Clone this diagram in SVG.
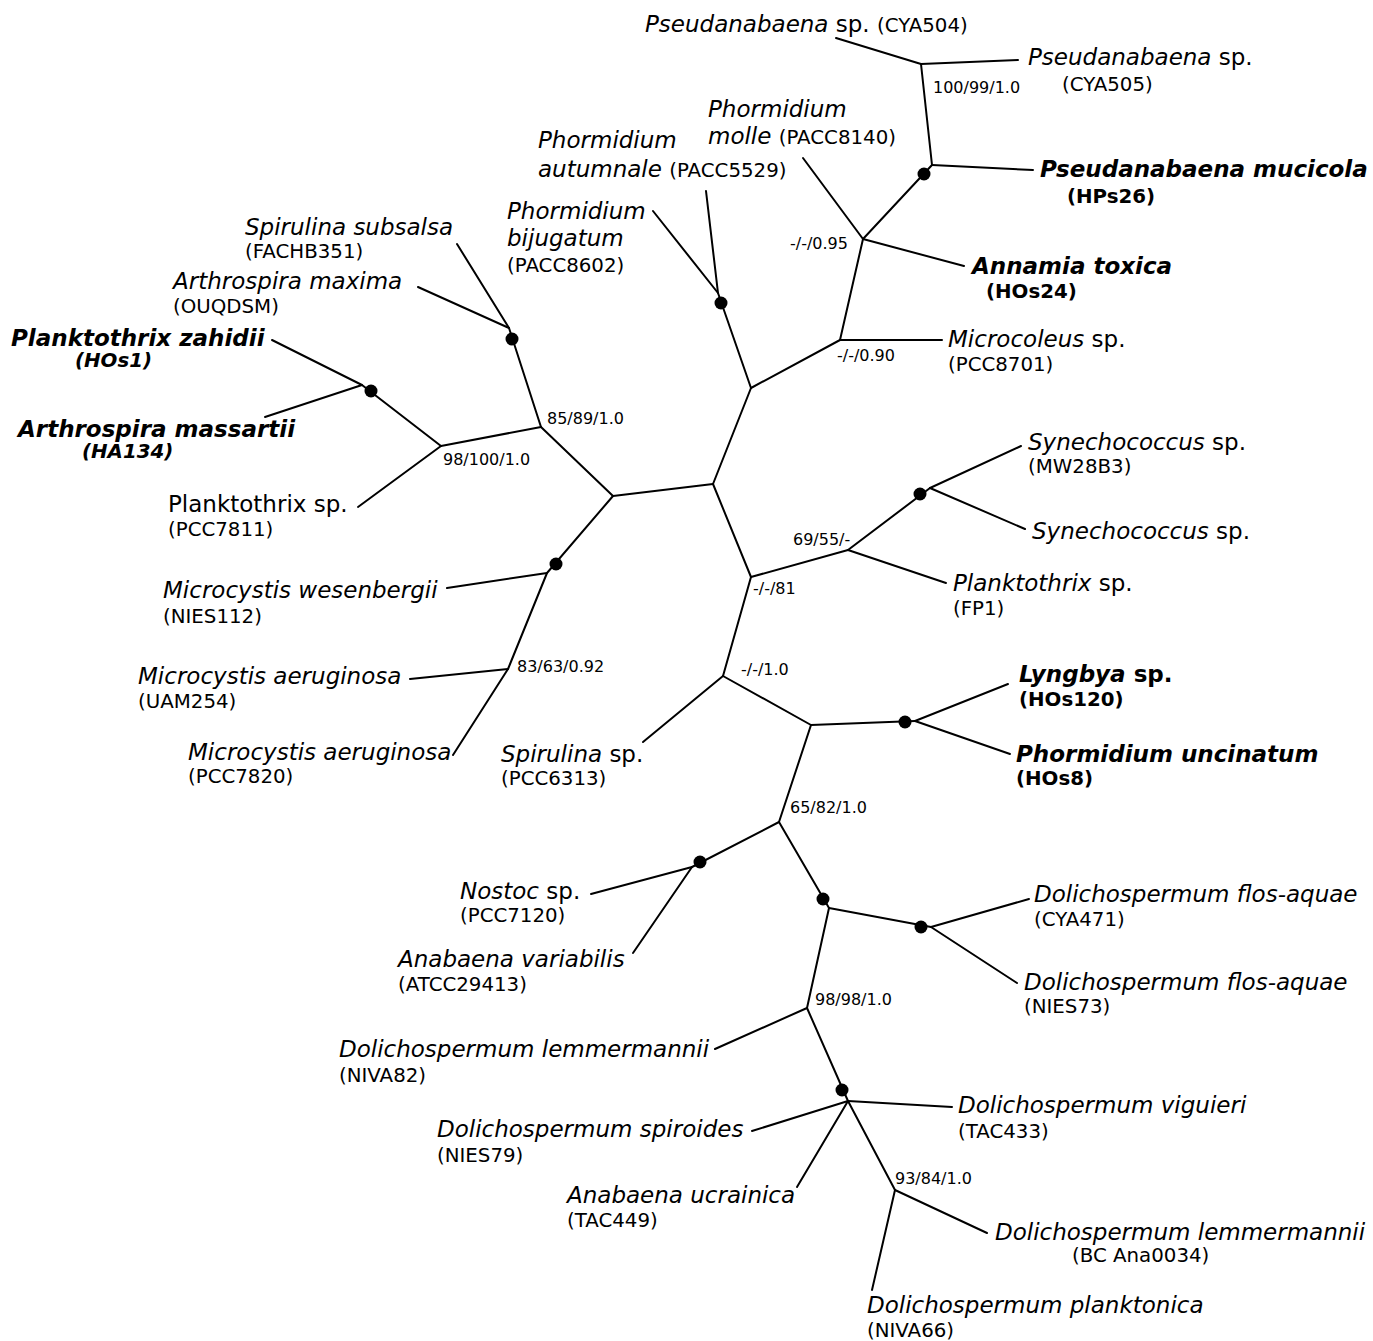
<svg xmlns="http://www.w3.org/2000/svg" width="1373" height="1341" viewBox="0 0 1373 1341">
<style>
text{font-family:"DejaVu Sans",Verdana,sans-serif;fill:#000}
.sp{font-size:23px}
.i{font-style:italic}
.st{font-size:19.8px}
.b{font-weight:bold}
.sv{font-size:16px}
.br line,.br polyline{stroke:#000;stroke-width:2;fill:none;stroke-linecap:round;stroke-linejoin:round}
.dot{fill:#000}
</style>
<rect width="1373" height="1341" fill="#fff"/>
<g id="connectors" class="br">
<line x1="613" y1="496" x2="713" y2="484"/>
<line x1="713" y1="484" x2="751" y2="388"/>
<line x1="713" y1="484" x2="751" y2="577"/>
<polyline points="751,388 718,293 653,211"/>
<line x1="718" y1="293" x2="706" y2="191"/>
<line x1="751" y1="388" x2="840" y2="340"/>
<line x1="840" y1="340" x2="942" y2="340"/>
<line x1="840" y1="340" x2="863" y2="239"/>
<line x1="863" y1="239" x2="803" y2="158"/>
<line x1="863" y1="239" x2="964" y2="266"/>
<line x1="863" y1="239" x2="932" y2="165"/>
<line x1="932" y1="165" x2="1033" y2="170"/>
<line x1="932" y1="165" x2="921" y2="64"/>
<line x1="921" y1="64" x2="836" y2="38"/>
<line x1="921" y1="64" x2="1018" y2="60"/>
<line x1="613" y1="496" x2="541" y2="427"/>
<polyline points="541,427 509,328 457,244"/>
<line x1="509" y1="328" x2="418" y2="287"/>
<line x1="541" y1="427" x2="441" y2="446"/>
<polyline points="441,446 362,385 272,340"/>
<line x1="362" y1="385" x2="265" y2="417"/>
<line x1="441" y1="446" x2="358" y2="507"/>
<polyline points="613,496 547,573 508,669 453,755"/>
<line x1="547" y1="573" x2="447" y2="588"/>
<line x1="508" y1="669" x2="410" y2="679"/>
<line x1="751" y1="577" x2="848" y2="550"/>
<line x1="848" y1="550" x2="930" y2="488"/>
<line x1="930" y1="488" x2="1021" y2="446"/>
<line x1="930" y1="488" x2="1025" y2="529"/>
<line x1="848" y1="550" x2="946" y2="583"/>
<line x1="751" y1="577" x2="723" y2="676"/>
<line x1="723" y1="676" x2="643" y2="742"/>
<line x1="723" y1="676" x2="811" y2="725"/>
<line x1="811" y1="725" x2="915" y2="721"/>
<line x1="915" y1="721" x2="1008" y2="684"/>
<line x1="915" y1="721" x2="1010" y2="754"/>
<line x1="811" y1="725" x2="779" y2="822"/>
<line x1="779" y1="822" x2="692" y2="867"/>
<line x1="692" y1="867" x2="591" y2="894"/>
<line x1="692" y1="867" x2="633" y2="953"/>
<line x1="779" y1="822" x2="829" y2="908"/>
<line x1="829" y1="908" x2="931" y2="927"/>
<line x1="931" y1="927" x2="1029" y2="899"/>
<line x1="931" y1="927" x2="1017" y2="983"/>
<line x1="829" y1="908" x2="807" y2="1008"/>
<line x1="807" y1="1008" x2="715" y2="1049"/>
<line x1="807" y1="1008" x2="848" y2="1101"/>
<line x1="848" y1="1101" x2="952" y2="1107"/>
<line x1="848" y1="1101" x2="752" y2="1131"/>
<line x1="848" y1="1101" x2="797" y2="1187"/>
<line x1="848" y1="1101" x2="895" y2="1190"/>
<line x1="895" y1="1190" x2="987" y2="1233"/>
<line x1="895" y1="1190" x2="872" y2="1290"/>
</g>
<g id="support-dots" class="dot">
<circle cx="924" cy="174" r="6.5"/>
<circle cx="721" cy="303" r="6.5"/>
<circle cx="512" cy="339" r="6.5"/>
<circle cx="371" cy="391" r="6.5"/>
<circle cx="556" cy="564" r="6.5"/>
<circle cx="920" cy="494" r="6.5"/>
<circle cx="905" cy="722" r="6.5"/>
<circle cx="700" cy="862" r="6.5"/>
<circle cx="823" cy="899" r="6.5"/>
<circle cx="921" cy="927" r="6.5"/>
<circle cx="842" cy="1090" r="6.5"/>
</g>
<g id="support-values" class="sv">
<text x="933" y="93">100/99/1.0</text>
<text x="790" y="249">-/-/0.95</text>
<text x="837" y="361">-/-/0.90</text>
<text x="547" y="424">85/89/1.0</text>
<text x="443" y="465">98/100/1.0</text>
<text x="517" y="672">83/63/0.92</text>
<text x="793" y="545">69/55/-</text>
<text x="753" y="594">-/-/81</text>
<text x="741" y="675">-/-/1.0</text>
<text x="790" y="813">65/82/1.0</text>
<text x="815" y="1005">98/98/1.0</text>
<text x="895" y="1184">93/84/1.0</text>
</g>
<g id="pseudanabaena-cya504"><text x="645" y="32" class="sp"><tspan class="i">Pseudanabaena</tspan> sp. <tspan class="st">(CYA504)</tspan></text></g>
<g id="pseudanabaena-cya505"><text x="1028" y="65" class="sp"><tspan class="i">Pseudanabaena</tspan> sp.</text><text x="1062" y="91" class="st">(CYA505)</text></g>
<g id="pseudanabaena-mucicola"><text x="1040" y="177" class="sp b i">Pseudanabaena mucicola</text><text x="1067" y="203" class="st b">(HPs26)</text></g>
<g id="phormidium-molle"><text x="708" y="117" class="sp i">Phormidium</text><text x="708" y="144" class="sp"><tspan class="i">molle</tspan> <tspan class="st">(PACC8140)</tspan></text></g>
<g id="phormidium-autumnale"><text x="538" y="148" class="sp i">Phormidium</text><text x="538" y="177" class="sp"><tspan class="i">autumnale</tspan> <tspan class="st">(PACC5529)</tspan></text></g>
<g id="phormidium-bijugatum"><text x="507" y="219" class="sp i">Phormidium</text><text x="507" y="246" class="sp i">bijugatum</text><text x="507" y="272" class="st">(PACC8602)</text></g>
<g id="annamia-toxica"><text x="972" y="274" class="sp b i">Annamia toxica</text><text x="986" y="298" class="st b">(HOs24)</text></g>
<g id="microcoleus"><text x="948" y="347" class="sp"><tspan class="i">Microcoleus</tspan> sp.</text><text x="948" y="371" class="st">(PCC8701)</text></g>
<g id="spirulina-subsalsa"><text x="245" y="235" class="sp i">Spirulina subsalsa</text><text x="245" y="258" class="st">(FACHB351)</text></g>
<g id="arthrospira-maxima"><text x="173" y="289" class="sp i">Arthrospira maxima</text><text x="173" y="313" class="st">(OUQDSM)</text></g>
<g id="planktothrix-zahidii"><text x="11" y="346" class="sp b i">Planktothrix zahidii</text><text x="75" y="367" class="st b i">(HOs1)</text></g>
<g id="arthrospira-massartii"><text x="18" y="437" class="sp b i">Arthrospira massartii</text><text x="82" y="458" class="st b i">(HA134)</text></g>
<g id="planktothrix-pcc7811"><text x="168" y="512" class="sp">Planktothrix sp.</text><text x="168" y="536" class="st">(PCC7811)</text></g>
<g id="microcystis-wesenbergii"><text x="163" y="598" class="sp i">Microcystis wesenbergii</text><text x="163" y="623" class="st">(NIES112)</text></g>
<g id="microcystis-uam254"><text x="138" y="684" class="sp i">Microcystis aeruginosa</text><text x="138" y="708" class="st">(UAM254)</text></g>
<g id="microcystis-pcc7820"><text x="188" y="760" class="sp i">Microcystis aeruginosa</text><text x="188" y="783" class="st">(PCC7820)</text></g>
<g id="synechococcus-mw28b3"><text x="1028" y="450" class="sp"><tspan class="i">Synechococcus</tspan> sp.</text><text x="1028" y="473" class="st">(MW28B3)</text></g>
<g id="synechococcus"><text x="1032" y="539" class="sp"><tspan class="i">Synechococcus</tspan> sp.</text></g>
<g id="planktothrix-fp1"><text x="953" y="591" class="sp"><tspan class="i">Planktothrix</tspan> sp.</text><text x="953" y="615" class="st">(FP1)</text></g>
<g id="lyngbya"><text x="1019" y="682" class="sp b"><tspan class="i">Lyngbya</tspan> sp.</text><text x="1019" y="706" class="st b">(HOs120)</text></g>
<g id="phormidium-uncinatum"><text x="1016" y="762" class="sp b i">Phormidium uncinatum</text><text x="1016" y="785" class="st b">(HOs8)</text></g>
<g id="spirulina-pcc6313"><text x="501" y="762" class="sp"><tspan class="i">Spirulina</tspan> sp.</text><text x="501" y="785" class="st">(PCC6313)</text></g>
<g id="nostoc"><text x="460" y="899" class="sp"><tspan class="i">Nostoc</tspan> sp.</text><text x="460" y="922" class="st">(PCC7120)</text></g>
<g id="anabaena-variabilis"><text x="398" y="967" class="sp i">Anabaena variabilis</text><text x="398" y="991" class="st">(ATCC29413)</text></g>
<g id="dolichospermum-flos-aquae-cya471"><text x="1034" y="902" class="sp i">Dolichospermum flos-aquae</text><text x="1034" y="926" class="st">(CYA471)</text></g>
<g id="dolichospermum-flos-aquae-nies73"><text x="1024" y="990" class="sp i">Dolichospermum flos-aquae</text><text x="1024" y="1013" class="st">(NIES73)</text></g>
<g id="dolichospermum-lemmermannii-niva82"><text x="339" y="1057" class="sp i">Dolichospermum lemmermannii</text><text x="339" y="1082" class="st">(NIVA82)</text></g>
<g id="dolichospermum-spiroides"><text x="437" y="1137" class="sp i">Dolichospermum spiroides</text><text x="437" y="1162" class="st">(NIES79)</text></g>
<g id="dolichospermum-viguieri"><text x="958" y="1113" class="sp i">Dolichospermum viguieri</text><text x="958" y="1138" class="st">(TAC433)</text></g>
<g id="anabaena-ucrainica"><text x="567" y="1203" class="sp i">Anabaena ucrainica</text><text x="567" y="1227" class="st">(TAC449)</text></g>
<g id="dolichospermum-lemmermannii-bc"><text x="995" y="1240" class="sp i">Dolichospermum lemmermannii</text><text x="1072" y="1262" class="st">(BC Ana0034)</text></g>
<g id="dolichospermum-planktonica"><text x="867" y="1313" class="sp i">Dolichospermum planktonica</text><text x="867" y="1337" class="st">(NIVA66)</text></g>
</svg>
